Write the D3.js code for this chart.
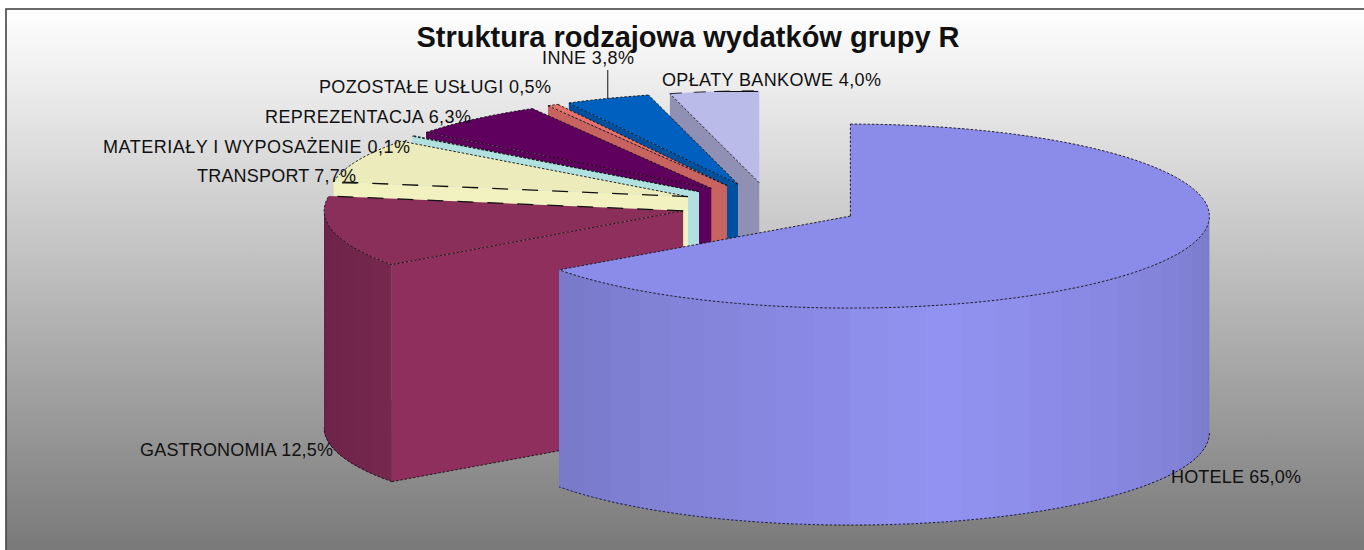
<!DOCTYPE html>
<html>
<head>
<meta charset="utf-8">
<script src="https://cdn.jsdelivr.net/npm/d3@7"></script>
<style>
  html, body { margin: 0; padding: 0; background: #fff; }
  text { font-family: "Liberation Sans", Arial, sans-serif; fill: #111; }
</style>
</head>
<body>
<div id="chart"></div>
<script>
const title = 'Struktura rodzajowa wydatków grupy R';
const categories = ['HOTELE', 'GASTRONOMIA', 'TRANSPORT', 'MATERIAŁY I WYPOSAŻENIE', 'REPREZENTACJA', 'POZOSTAŁE USŁUGI', 'INNE', 'OPŁATY BANKOWE'];
const shares = [65.0, 12.5, 7.7, 0.1, 6.3, 0.5, 3.8, 4.0];

const topColors = ['#8b8be9', '#892f5a', '#ebebbb', '#b0e0e0', '#5f005f', '#e4716b', '#0060c0', '#bbbbea'];
const cutColors = ['#8b8be9', '#8f2f5e', '#f2f2c0', '#b0e0e0', '#5c005c', '#c8645f', '#0050a0', '#9090b5'];
const sideColors = ['#9292f2', '#8f2f5e', '#f2f2c0', '#b0e0e0', '#5f005f', '#c8645f', '#0050a0', '#9090b5'];
// label anchors and widths, same order as categories
const labelX = [1171, 140, 197, 103, 265, 319, 542, 662];
const labelY = [483, 456, 182, 153, 123, 93, 64, 86];
const labelW = [130, 193, 159, 307, 206, 232, 92, 219];

const width = 1364, height = 550;
const cx = 770.5, cy = 205.6, rx = 359, ry = 92, depth = 217, explode = 0.25;

const svg = d3.select('#chart').append('svg')
  .attr('width', width)
  .attr('height', height)
  .style('display', 'block');

const grad = svg.append('defs').append('linearGradient')
  .attr('id', 'bg').attr('x1', 0).attr('y1', 0).attr('x2', 0).attr('y2', 1);
grad.append('stop').attr('offset', 0).attr('stop-color', '#ffffff');
grad.append('stop').attr('offset', 1).attr('stop-color', '#777777');

svg.append('rect')
  .attr('x', 6).attr('y', 9)
  .attr('width', width).attr('height', height)
  .attr('fill', 'url(#bg)')
  .attr('stroke', '#444')
  .attr('stroke-width', 1.6);

const pie = d3.pie().sort(null).startAngle(0).endAngle(2 * Math.PI);
const slices = pie(shares);

// screen position of a point on the flattened disc, t = angle clockwise from 12 o'clock
const px = (o, t, r = 1) => o.x + rx * r * Math.sin(t);
const py = (o, t, r = 1) => o.y - ry * r * Math.cos(t);

slices.forEach((d) => {
  const mid = (d.startAngle + d.endAngle) / 2;
  d.o = { x: px({ x: cx }, mid, explode), y: py({ y: cy }, mid, explode) };
  d.steps = d3.range(d.startAngle, d.endAngle, Math.PI / 180).concat(d.endAngle);
});

const line = d3.line().x(p => p[0]).y(p => p[1]);
const arcPoints = (d, dy = 0) => d.steps.map(t => [px(d.o, t), py(d.o, t) + dy]);

// excel style lighting of the rim, brightest a bit right of the front
const light = d3.scaleLinear().domain([90, 165, 270]).range([0.83, 1, 0.74]);

const dots = '2.5,1.8';
const longDash = '16,14';

const chart = svg.append('g');

// paint back to front: the small slices first, hotele last
slices.slice().reverse().forEach((d) => {
  const i = d.index;
  const g = chart.append('g');
  const apex = [d.o.x, d.o.y];
  const start = [px(d.o, d.startAngle), py(d.o, d.startAngle)];
  const end = [px(d.o, d.endAngle), py(d.o, d.endAngle)];

  // cut face that looks at the viewer
  if (Math.sin(d.startAngle) < -0.001) {
    g.append('path')
      .attr('d', line([apex, start, [start[0], start[1] + depth], [apex[0], apex[1] + depth]]) + 'Z')
      .attr('fill', cutColors[i]);
    g.append('path')
      .attr('d', line([[start[0], start[1] + depth], [apex[0], apex[1] + depth]]))
      .attr('fill', 'none').attr('stroke', '#111').attr('stroke-width', 0.9)
      .attr('stroke-dasharray', dots);
  }

  // outer rim, in 6 degree bands; each band runs to the end of the rim
  // and the next one paints over it, so no seams show
  const from = Math.max(d.startAngle, Math.PI / 2);
  const to = Math.min(d.endAngle, 1.5 * Math.PI);
  if (to > from) {
    const bands = d3.range(from, to, Math.PI / 30);
    bands.forEach((a) => {
      const deg = (a + Math.PI / 60) * 180 / Math.PI;
      const fill = d3.interpolateRgb('#000', sideColors[i])(light(deg));
      const ts = d3.range(a, to, Math.PI / 180).concat(to);
      const upper = ts.map(t => [px(d.o, t), py(d.o, t)]);
      const lower = ts.map(t => [px(d.o, t), py(d.o, t) + depth]).reverse();
      g.append('path')
        .attr('d', line(upper.concat(lower)) + 'Z')
        .attr('fill', fill);
    });
    const ts = d3.range(from, to, Math.PI / 180).concat(to);
    g.append('path')
      .attr('d', line(ts.map(t => [px(d.o, t), py(d.o, t) + depth])))
      .attr('fill', 'none').attr('stroke', '#111').attr('stroke-width', 0.9)
      .attr('stroke-dasharray', dots);
  }

  // top face
  g.append('path')
    .attr('d', line([apex].concat(arcPoints(d))) + 'Z')
    .attr('fill', topColors[i]);

  const edge = (pts, dash) => g.append('path')
    .attr('d', line(pts))
    .attr('fill', 'none').attr('stroke', '#111')
    .attr('stroke-width', dash === longDash ? 1.3 : 0.9)
    .attr('stroke-dasharray', dash);
  edge(arcPoints(d), i === 7 ? '12,12' : dots);
  edge([apex, start], i === 2 ? longDash : dots);
  if (i !== 7) edge([apex, end], i === 1 ? longDash : dots);
});

// leader lines
const leader = (x1, y1, x2, y2) => svg.append('line')
  .attr('x1', x1).attr('y1', y1).attr('x2', x2).attr('y2', y2)
  .attr('stroke', '#111').attr('stroke-width', 1);

const inneMid = (slices[6].startAngle + slices[6].endAngle) / 2;
const bankMid = (slices[7].startAngle + slices[7].endAngle) / 2;
leader(px(slices[6].o, inneMid), py(slices[6].o, inneMid), px(slices[6].o, inneMid), 70);
leader(px(slices[7].o, bankMid), py(slices[7].o, bankMid), 758, py(slices[7].o, bankMid));
leader(342, 183, 357, 183);

svg.append('g').selectAll('text')
  .data(categories)
  .join('text')
  .attr('x', (d, i) => labelX[i])
  .attr('y', (d, i) => labelY[i])
  .attr('font-size', 18)
  .attr('textLength', (d, i) => labelW[i])
  .attr('lengthAdjust', 'spacing')
  .text((d, i) => `${d} ${shares[i].toFixed(1).replace('.', ',')}%`);

svg.append('text')
  .attr('x', 688)
  .attr('y', 47)
  .attr('text-anchor', 'middle')
  .attr('font-size', 29)
  .attr('font-weight', 'bold')
  .text(title);
</script>
</body>
</html>
